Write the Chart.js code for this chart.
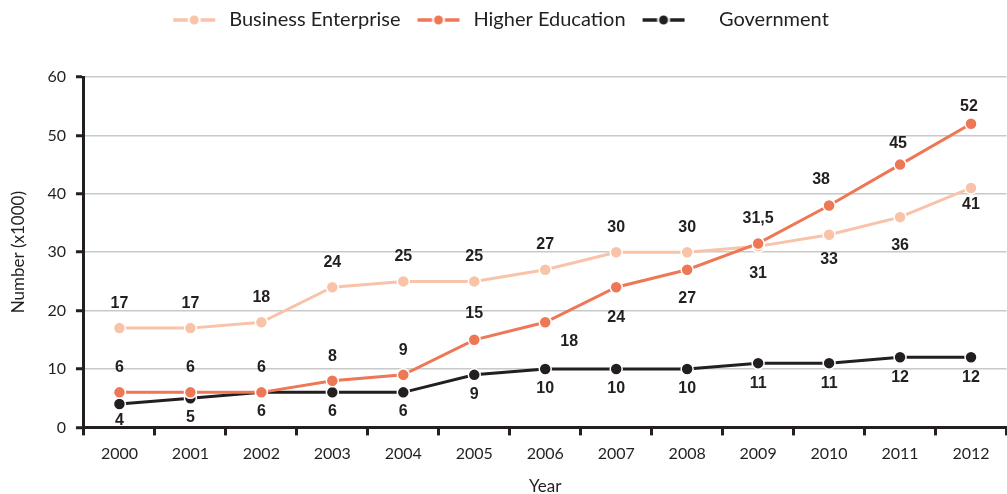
<!DOCTYPE html>
<html>
<head>
<meta charset="utf-8">
<script src="https://cdn.jsdelivr.net/npm/chart.js@4/dist/chart.umd.min.js"></script>
<style>
  html, body { margin: 0; padding: 0; background: #fff; overflow: hidden; }
  #chart { display: block; }
</style>
</head>
<body>
<canvas id="chart" width="1014" height="494"></canvas>
<script>
// data
const years = ['2000','2001','2002','2003','2004','2005','2006','2007','2008','2009','2010','2011','2012'];
const business = [17, 17, 18, 24, 25, 25, 27, 30, 30, 31, 33, 36, 41];
const higherEd = [6, 6, 6, 8, 9, 15, 18, 24, 27, 31.5, 38, 45, 52];
const government = [4, 5, 6, 6, 6, 9, 10, 10, 10, 11, 11, 12, 12];

const ink = '#231f20';
const colBusiness = '#f8c3a8';
const colHigher = '#ee7756';

// where each value label sits relative to its point: [dx, dy]
const posBusiness = [[0,-25],[0,-25],[0,-25],[0,-25],[0,-25],[0,-25],[0,-25],[0,-25],[0,-25],[0,27],[0,25],[0,28],[0,17]];
const posHigher = [[0,-25],[0,-25],[0,-25],[0,-24],[0,-24],[0,-26],[24,19],[0,30],[0,29],[0,-25],[-8,-26],[-2,-21],[-2,-17]];
const posGov = [[0,17],[0,19],[0,19],[0,19],[0,19],[0,20],[0,20],[0,20],[0,20],[0,20],[0,20],[0,20],[0,20]];

// legend icon: short line with a dot in the middle
function legendIcon(color) {
  const c = document.createElement('canvas');
  c.width = 44; c.height = 14;
  const g = c.getContext('2d');
  g.strokeStyle = color; g.lineWidth = 3.5;
  g.beginPath(); g.moveTo(1, 7); g.lineTo(43, 7); g.stroke();
  g.fillStyle = color; g.strokeStyle = '#fff'; g.lineWidth = 2;
  g.beginPath(); g.arc(22, 7, 5.5, 0, Math.PI * 2); g.fill(); g.stroke();
  return c;
}

const valueLabels = {
  id: 'valueLabels',
  afterDatasetsDraw(chart) {
    const ctx = chart.ctx;
    ctx.save();
    ctx.font = 'bold 16px "Liberation Sans", Arial, sans-serif';
    ctx.fillStyle = ink;
    ctx.textAlign = 'center';
    ctx.textBaseline = 'middle';
    chart.data.datasets.forEach((ds, i) => {
      const meta = chart.getDatasetMeta(i);
      meta.data.forEach((pt, j) => {
        const off = ds.labelPos[j];
        const txt = String(ds.data[j]).replace('.', ',');
        ctx.fillText(txt, pt.x + off[0], pt.y + off[1]);
      });
    });
    ctx.restore();
  }
};

// extra room under the legend, and nudge it a bit to the left
const legendGap = {
  id: 'legendGap',
  beforeInit(chart) {
    const fit = chart.legend.fit;
    chart.legend.fit = function () {
      fit.bind(chart.legend)();
      this.height += 37;
    };
  },
  afterLayout(chart) {
    chart.legend.left -= 12;
    chart.legend.right -= 12;
  }
};

function series(label, data, color, pos, order) {
  return {
    label: label,
    data: data,
    borderColor: color,
    backgroundColor: color,
    borderWidth: 3,
    pointRadius: 6,
    pointHoverRadius: 6,
    pointBorderColor: '#fff',
    pointBorderWidth: 1.5,
    pointBackgroundColor: color,
    tension: 0,
    labelPos: pos,
    order: order,
    icon: legendIcon(color)
  };
}

new Chart(document.getElementById('chart'), {
  type: 'line',
  data: {
    labels: years,
    datasets: [
      series('Business Enterprise', business, colBusiness, posBusiness, 3),
      series('Higher Education', higherEd, colHigher, posHigher, 1),
      series('Government', government, ink, posGov, 2)
    ]
  },
  options: {
    responsive: false,
    animation: false,
    layout: { padding: { left: 8, right: 0, top: -3, bottom: -3 } },
    plugins: {
      tooltip: { enabled: false },
      legend: {
        position: 'top',
        labels: {
          usePointStyle: true,
          pointStyleWidth: 50,
          padding: 13,
          color: ink,
          font: { family: 'Lato, sans-serif', size: 20 },
          generateLabels(chart) {
            return chart.data.datasets.map((ds, i) => ({
              // the last entry is set a little further from its icon
              text: (i === 2 ? '    ' : '') + ds.label,
              pointStyle: ds.icon,
              fillStyle: ds.borderColor,
              strokeStyle: ds.borderColor,
              fontColor: ink,
              lineWidth: 0,
              hidden: false,
              datasetIndex: i
            }));
          }
        }
      }
    },
    scales: {
      x: {
        offset: true,
        grid: {
          offset: true,
          drawOnChartArea: false,
          tickLength: 8,
          tickColor: ink,
          tickWidth: 3
        },
        border: { color: ink, width: 3 },
        ticks: { color: ink, padding: 9, font: { family: 'Lato, sans-serif', size: 16 } },
        title: {
          display: true,
          text: 'Year',
          color: ink,
          padding: { top: 4, bottom: 0 },
          font: { family: 'Lato, sans-serif', size: 17 }
        }
      },
      y: {
        min: 0,
        max: 60,
        ticks: { stepSize: 10, color: ink, padding: 10, font: { family: 'Lato, sans-serif', size: 16 } },
        grid: {
          color: '#c9c9c9',
          lineWidth: 1.5,
          tickLength: 8,
          tickColor: ink,
          tickWidth: 3
        },
        border: { color: ink, width: 3 },
        title: {
          display: true,
          text: 'Number (x1000)',
          color: ink,
          padding: { top: 0, bottom: 9 },
          font: { family: 'Lato, sans-serif', size: 17 }
        }
      }
    }
  },
  plugins: [valueLabels, legendGap]
});
</script>
</body>
</html>
